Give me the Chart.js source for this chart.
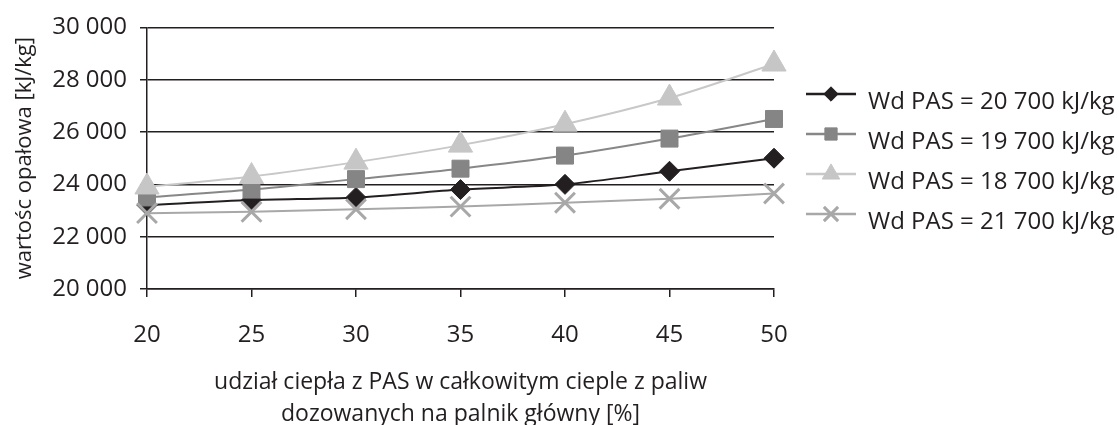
<!DOCTYPE html>
<html>
<head>
<meta charset="utf-8">
<script src="https://cdn.jsdelivr.net/npm/chart.js@4"></script>
<style>
html, body { margin: 0; padding: 0; background: #fff; }
</style>
</head>
<body>
<canvas id="wartoscChart" width="1119" height="425"></canvas>
<script>
// udział ciepła z PAS [%]
var udzialy = ['20', '25', '30', '35', '40', '45', '50'];

// wartość opałowa mieszanki [kJ/kg] dla kolejnych PAS
var wd20700 = [23200, 23400, 23500, 23800, 24000, 24500, 25000];
var wd19700 = [23500, 23800, 24200, 24600, 25100, 25750, 26500];
var wd18700 = [23900, 24300, 24850, 25500, 26300, 27300, 28600];
var wd21700 = [22900, 22950, 23050, 23150, 23300, 23450, 23650];

var nazwySerii = [
    'Wd PAS = 20 700 kJ/kg',
    'Wd PAS = 19 700 kJ/kg',
    'Wd PAS = 18 700 kJ/kg',
    'Wd PAS = 21 700 kJ/kg'
];

var osY = { min: 20000, max: 30000, krok: 2000 };

var CZCIONKA = '"Open Sans", sans-serif';
var CZARNY = '#231f20';

function formatTys(v) {
    return String(v).replace(/\B(?=(\d{3})+(?!\d))/g, ' ');
}

var serie = [
    { label: nazwySerii[0], data: wd20700, borderColor: CZARNY, pointBackgroundColor: CZARNY, pointBorderColor: CZARNY,
      pointStyle: 'rectRot', pointRadius: 10, pointBorderWidth: 1, order: 4 },
    { label: nazwySerii[1], data: wd19700, borderColor: '#878787', pointBackgroundColor: '#858585', pointBorderColor: '#858585',
      pointStyle: 'rect', pointRadius: 12, pointBorderWidth: 1, order: 3 },
    { label: nazwySerii[2], data: wd18700, borderColor: '#c8c8c8', pointBackgroundColor: '#c6c6c6', pointBorderColor: '#c6c6c6',
      pointStyle: 'triangle', pointRadius: 14, pointBorderWidth: 1, order: 2 },
    { label: nazwySerii[3], data: wd21700, borderColor: '#a8a8a8', pointBackgroundColor: '#a8a8a8', pointBorderColor: '#a8a8a8',
      pointStyle: 'crossRot', pointRadius: 14, pointBorderWidth: 3, order: 1 }
];

serie.forEach(function (s) {
    s.borderWidth = 2;
    s.tension = 0.3;
    s.fill = false;
    s.clip = false;
    s.pointHoverRadius = s.pointRadius;
});

// ikona legendy: odcinek linii z markerem, lekko powyżej środka tekstu
var IKONA_W = 66;
function ikonaLegendy(s) {
    var c = document.createElement('canvas');
    c.width = IKONA_W;
    c.height = 40;
    var g = c.getContext('2d');
    var yl = 12;
    g.strokeStyle = s.borderColor;
    g.lineWidth = 2.5;
    g.beginPath();
    g.moveTo(16, yl);
    g.lineTo(IKONA_W, yl);
    g.stroke();
    g.fillStyle = s.pointBackgroundColor;
    g.strokeStyle = s.pointBorderColor;
    g.lineWidth = s.pointBorderWidth;
    Chart.helpers.drawPoint(g, {
        pointStyle: s.pointStyle,
        radius: s.pointRadius * 0.72,
        rotation: 0,
        borderWidth: s.pointBorderWidth
    }, 41, yl);
    return c;
}

var ikony = serie.map(ikonaLegendy);

var ctx = document.getElementById('wartoscChart').getContext('2d');

var wykres = new Chart(ctx, {
    type: 'line',
    data: {
        labels: udzialy,
        datasets: serie
    },
    options: {
        responsive: false,
        animation: false,
        layout: {
            padding: { left: 0, top: 16, right: 0, bottom: 0 }
        },
        plugins: {
            tooltip: { enabled: false },
            legend: {
                position: 'right',
                align: 'start',
                maxWidth: 345,
                // pusty tytuł tylko odsuwa pozycje legendy w dół
                title: {
                    display: true,
                    text: '',
                    font: { family: CZCIONKA, size: 20, lineHeight: 1.2 },
                    padding: { top: 34, bottom: 0 }
                },
                labels: {
                    usePointStyle: true,
                    pointStyleWidth: IKONA_W,
                    padding: 16,
                    color: CZARNY,
                    font: { family: CZCIONKA, size: 24 },
                    generateLabels: function (chart) {
                        return chart.data.datasets.map(function (s, i) {
                            return {
                                text: s.label,
                                pointStyle: ikony[i],
                                datasetIndex: i,
                                fontColor: CZARNY,
                                lineWidth: 0,
                                strokeStyle: 'rgba(0,0,0,0)',
                                fillStyle: 'rgba(0,0,0,0)',
                                hidden: false
                            };
                        });
                    }
                }
            }
        },
        scales: {
            x: {
                type: 'category',
                offset: false,
                afterFit: function (s) { s.height = 136; },
                grid: {
                    drawOnChartArea: false,
                    drawTicks: true,
                    tickLength: 8,
                    color: CZARNY,
                    lineWidth: 1.5
                },
                border: { display: true, color: CZARNY, width: 1.5 },
                ticks: {
                    color: CZARNY,
                    padding: 24,
                    maxRotation: 0,
                    font: { family: CZCIONKA, size: 24 }
                },
                title: {
                    display: true,
                    text: ['udział ciepła z PAS w całkowitym cieple z paliw', 'dozowanych na palnik główny [%]'],
                    color: CZARNY,
                    font: { family: CZCIONKA, size: 23, lineHeight: 1.4 },
                    padding: { top: 0, bottom: -6 }
                }
            },
            y: {
                min: osY.min,
                max: osY.max,
                afterFit: function (s) { s.width = 147; },
                grid: {
                    color: CZARNY,
                    lineWidth: 1.5,
                    tickLength: 7
                },
                border: { display: true, color: CZARNY, width: 1.5 },
                ticks: {
                    stepSize: osY.krok,
                    color: CZARNY,
                    padding: 13,
                    font: { family: CZCIONKA, size: 24 },
                    callback: function (v) { return formatTys(v); }
                },
                title: {
                    display: true,
                    text: 'wartośc opałowa [kJ/kg]',
                    color: CZARNY,
                    font: { family: CZCIONKA, size: 22, lineHeight: 1.2 },
                    padding: { top: 12, bottom: 0 }
                }
            }
        }
    }
});
</script>
</body>
</html>
